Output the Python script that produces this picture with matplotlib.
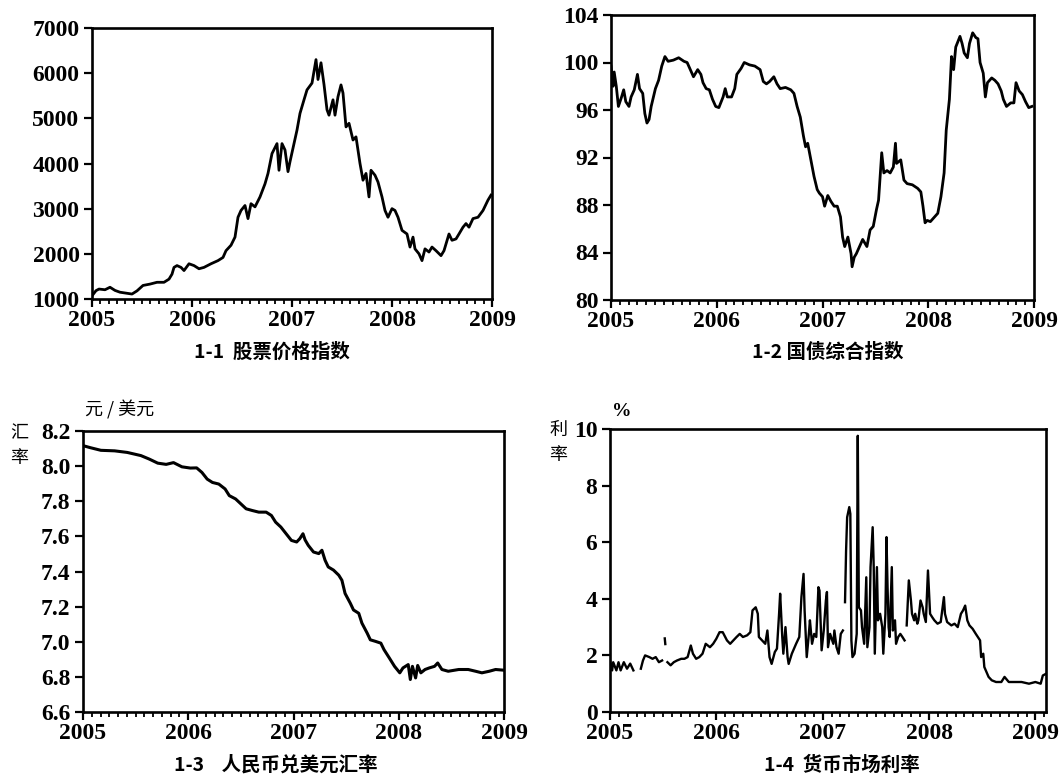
import numpy as np
import matplotlib
matplotlib.use('Agg')
import matplotlib.pyplot as plt
from matplotlib.ticker import MultipleLocator, FormatStrFormatter

nan = np.nan

# 1-1 stock price index
stock_t = [2005.00, 2005.04, 2005.07, 2005.13, 2005.18, 2005.23, 2005.28, 2005.34, 2005.40, 2005.45,
           2005.51, 2005.58, 2005.65, 2005.72, 2005.77, 2005.80, 2005.82, 2005.85, 2005.89, 2005.92,
           2005.97, 2006.02, 2006.07, 2006.12, 2006.19, 2006.26, 2006.31, 2006.34, 2006.39, 2006.43,
           2006.46, 2006.49, 2006.53, 2006.56, 2006.59, 2006.63, 2006.68, 2006.73, 2006.76, 2006.80,
           2006.85, 2006.87, 2006.90, 2006.93, 2006.96, 2006.98, 2007.02, 2007.05, 2007.08, 2007.12,
           2007.15, 2007.20, 2007.24, 2007.26, 2007.29, 2007.32, 2007.35, 2007.37, 2007.41, 2007.43,
           2007.46, 2007.49, 2007.51, 2007.54, 2007.57, 2007.61, 2007.64, 2007.68, 2007.71, 2007.74,
           2007.77, 2007.79, 2007.83, 2007.86, 2007.90, 2007.93, 2007.96, 2008.00, 2008.03, 2008.06,
           2008.10, 2008.15, 2008.18, 2008.21, 2008.23, 2008.27, 2008.30, 2008.33, 2008.37, 2008.40,
           2008.44, 2008.49, 2008.52, 2008.57, 2008.60, 2008.64, 2008.67, 2008.71, 2008.74, 2008.77,
           2008.81, 2008.86, 2008.91, 2008.96, 2008.99]
stock_v = [1070, 1185, 1220, 1205, 1260, 1190, 1150, 1130, 1110, 1180,
           1300, 1330, 1370, 1370, 1440, 1550, 1700, 1740, 1700, 1630,
           1780, 1740, 1670, 1700, 1780, 1850, 1920, 2070, 2190, 2370,
           2810, 2960, 3070, 2780, 3110, 3040, 3260, 3550, 3780, 4220,
           4440, 3850, 4440, 4300, 3820, 4040, 4440, 4740, 5110, 5410,
           5630, 5780, 6300, 5860, 6230, 5750, 5190, 5070, 5410, 5070,
           5480, 5740, 5560, 4810, 4890, 4520, 4590, 4000, 3630, 3780,
           3260, 3850, 3740, 3590, 3260, 2960, 2810, 3000, 2960, 2810,
           2520, 2440, 2150, 2370, 2110, 2000, 1850, 2110, 2040, 2150,
           2070, 1960, 2070, 2440, 2300, 2330, 2440, 2590, 2670, 2590,
           2780, 2810, 2960, 3190, 3300]

# 1-2 treasury bond composite index
bond_t = [2005.00, 2005.02, 2005.03, 2005.05, 2005.07, 2005.10, 2005.12, 2005.14, 2005.17, 2005.19,
          2005.22, 2005.25, 2005.27, 2005.30, 2005.32, 2005.34, 2005.36, 2005.38, 2005.42, 2005.45,
          2005.48, 2005.51, 2005.54, 2005.59, 2005.64, 2005.69, 2005.72, 2005.75, 2005.78, 2005.82,
          2005.85, 2005.87, 2005.90, 2005.93, 2005.96, 2005.99, 2006.02, 2006.06, 2006.08, 2006.10,
          2006.14, 2006.17, 2006.19, 2006.23, 2006.26, 2006.31, 2006.36, 2006.41, 2006.44, 2006.47,
          2006.50, 2006.54, 2006.57, 2006.60, 2006.65, 2006.70, 2006.73, 2006.76, 2006.79, 2006.82,
          2006.84, 2006.86, 2006.89, 2006.92, 2006.95, 2006.97, 2007.00, 2007.02, 2007.05, 2007.08,
          2007.11, 2007.14, 2007.17, 2007.19, 2007.21, 2007.24, 2007.27, 2007.28, 2007.30, 2007.32,
          2007.35, 2007.38, 2007.42, 2007.45, 2007.48, 2007.51, 2007.53, 2007.56, 2007.58, 2007.61,
          2007.64, 2007.67, 2007.69, 2007.70, 2007.74, 2007.77, 2007.80, 2007.85, 2007.90, 2007.93,
          2007.95, 2007.97, 2007.99, 2008.02, 2008.06, 2008.09, 2008.12, 2008.15, 2008.17, 2008.20,
          2008.22, 2008.24, 2008.26, 2008.30, 2008.32, 2008.34, 2008.37, 2008.39, 2008.42, 2008.45,
          2008.47, 2008.49, 2008.52, 2008.54, 2008.56, 2008.60, 2008.63, 2008.66, 2008.69, 2008.71,
          2008.74, 2008.78, 2008.81, 2008.83, 2008.86, 2008.89, 2008.92, 2008.95, 2008.98]
bond_v = [99.7, 98.0, 99.2, 98.0, 96.3, 97.1, 97.7, 96.7, 96.3, 97.1,
          97.7, 99.0, 97.8, 97.4, 95.7, 94.9, 95.2, 96.3, 97.8, 98.5,
          99.7, 100.5, 100.1, 100.2, 100.4, 100.1, 100.0, 99.4, 98.8, 99.4,
          99.0, 98.3, 97.8, 97.7, 96.9, 96.3, 96.2, 97.1, 97.8, 97.1,
          97.1, 97.8, 99.0, 99.5, 100.0, 99.8, 99.7, 99.4, 98.4, 98.2,
          98.4, 98.8, 98.2, 97.8, 97.9, 97.7, 97.4, 96.3, 95.4, 93.8,
          92.9, 93.2, 91.8, 90.4, 89.3, 89.0, 88.7, 87.9, 88.8, 88.3,
          87.9, 87.9, 87.0, 85.3, 84.5, 85.3, 83.9, 82.8, 83.6, 83.9,
          84.5, 85.1, 84.5, 85.9, 86.2, 87.6, 88.4, 92.4, 90.7, 90.9,
          90.7, 91.2, 93.2, 91.5, 91.8, 90.1, 89.8, 89.7, 89.4, 89.1,
          87.9, 86.5, 86.7, 86.6, 87.0, 87.3, 88.7, 90.7, 94.3, 96.9,
          100.5, 99.4, 101.3, 102.2, 101.6, 100.8, 100.4, 101.6, 102.5, 102.1,
          102.0, 100.0, 99.1, 97.1, 98.3, 98.7, 98.5, 98.2, 97.6, 96.9,
          96.3, 96.6, 96.6, 98.3, 97.6, 97.3, 96.7, 96.2, 96.3]

# 1-3 RMB / USD exchange rate
fx_t = [2005.01, 2005.07, 2005.17, 2005.30, 2005.42, 2005.55, 2005.63, 2005.71, 2005.79, 2005.86,
        2005.94, 2006.02, 2006.08, 2006.13, 2006.18, 2006.23, 2006.29, 2006.35, 2006.39, 2006.45,
        2006.50, 2006.55, 2006.61, 2006.67, 2006.74, 2006.79, 2006.83, 2006.88, 2006.93, 2006.98,
        2007.03, 2007.06, 2007.09, 2007.11, 2007.14, 2007.19, 2007.24, 2007.27, 2007.30, 2007.33,
        2007.38, 2007.43, 2007.46, 2007.49, 2007.54, 2007.57, 2007.62, 2007.65, 2007.70, 2007.73,
        2007.78, 2007.83, 2007.86, 2007.91, 2007.96, 2008.01, 2008.04, 2008.09, 2008.11, 2008.13,
        2008.16, 2008.18, 2008.21, 2008.25, 2008.29, 2008.34, 2008.37, 2008.41, 2008.47, 2008.57,
        2008.66, 2008.73, 2008.79, 2008.86, 2008.92, 2009.00]
fx_v = [8.115, 8.105, 8.090, 8.087, 8.078, 8.060, 8.040, 8.017, 8.010, 8.020,
        7.996, 7.989, 7.990, 7.964, 7.926, 7.907, 7.898, 7.870, 7.832, 7.813,
        7.785, 7.757, 7.747, 7.738, 7.738, 7.719, 7.681, 7.653, 7.615, 7.577,
        7.568, 7.587, 7.615, 7.580, 7.549, 7.511, 7.502, 7.521, 7.464, 7.426,
        7.408, 7.379, 7.350, 7.275, 7.219, 7.181, 7.162, 7.106, 7.049, 7.011,
        7.002, 6.992, 6.955, 6.908, 6.860, 6.823, 6.851, 6.870, 6.785, 6.860,
        6.794, 6.865, 6.823, 6.842, 6.851, 6.860, 6.879, 6.842, 6.832, 6.842,
        6.842, 6.832, 6.823, 6.832, 6.842, 6.838]

# 1-4 money market rate (nan = gap in the series)
rate_t = [2005.00, 2005.02, 2005.03, 2005.06, 2005.08, 2005.10, 2005.13, 2005.16, 2005.19, 2005.22,
          2005.25, 2005.29, 2005.31, 2005.33, 2005.37, 2005.40, 2005.43, 2005.46, 2005.49, 2005.50,
          2005.515, 2005.52, 2005.53, 2005.54, 2005.57, 2005.60, 2005.63, 2005.67, 2005.70, 2005.73,
          2005.76, 2005.78, 2005.81, 2005.84, 2005.87, 2005.90, 2005.94, 2005.97, 2006.00, 2006.03,
          2006.06, 2006.10, 2006.13, 2006.16, 2006.19, 2006.22, 2006.25, 2006.29, 2006.32, 2006.34,
          2006.37, 2006.39, 2006.40, 2006.43, 2006.46, 2006.48, 2006.50, 2006.52, 2006.55, 2006.57,
          2006.59, 2006.60, 2006.62, 2006.63, 2006.65, 2006.67, 2006.68, 2006.71, 2006.75, 2006.78,
          2006.80, 2006.82, 2006.83, 2006.85, 2006.87, 2006.88, 2006.90, 2006.92, 2006.94, 2006.96,
          2006.97, 2006.99, 2007.01, 2007.03, 2007.04, 2007.05, 2007.07, 2007.10, 2007.11, 2007.13,
          2007.15, 2007.17, 2007.19, 2007.20, 2007.21, 2007.22, 2007.23, 2007.25, 2007.26, 2007.27,
          2007.28, 2007.30, 2007.32, 2007.33, 2007.34, 2007.36, 2007.37, 2007.39, 2007.41, 2007.42,
          2007.44, 2007.45, 2007.47, 2007.48, 2007.49, 2007.51, 2007.52, 2007.54, 2007.56, 2007.57,
          2007.59, 2007.60, 2007.61, 2007.62, 2007.63, 2007.65, 2007.66, 2007.68, 2007.69, 2007.71,
          2007.73, 2007.75, 2007.77, 2007.78, 2007.79, 2007.81, 2007.83, 2007.84, 2007.86, 2007.87,
          2007.89, 2007.90, 2007.92, 2007.94, 2007.95, 2007.97, 2007.99, 2008.01, 2008.03, 2008.05,
          2008.08, 2008.11, 2008.14, 2008.15, 2008.17, 2008.21, 2008.24, 2008.27, 2008.30, 2008.32,
          2008.34, 2008.36, 2008.38, 2008.41, 2008.44, 2008.48, 2008.49, 2008.51, 2008.52, 2008.56,
          2008.59, 2008.63, 2008.68, 2008.71, 2008.75, 2008.81, 2008.87, 2008.94, 2009.00, 2009.05,
          2009.07, 2009.10]
rate_v = [1.82, 1.47, 1.76, 1.47, 1.76, 1.47, 1.76, 1.53, 1.71, 1.47,
          nan, 1.53, 1.82, 2.00, 1.94, 1.88, 1.94, 1.76, 1.82, nan,
          2.60, 2.40, nan, 1.76, 1.65, 1.76, 1.82, 1.88, 1.88, 1.94,
          2.35, 2.06, 1.88, 1.94, 2.06, 2.41, 2.29, 2.41, 2.59, 2.82,
          2.82, 2.53, 2.41, 2.53, 2.65, 2.76, 2.65, 2.71, 2.82, 3.59,
          3.70, 3.47, 2.65, 2.53, 2.41, 2.88, 1.94, 1.70, 2.12, 2.24,
          3.47, 4.18, 2.65, 2.06, 3.00, 1.94, 1.70, 2.06, 2.41, 2.65,
          4.06, 4.88, 3.59, 1.94, 2.76, 3.24, 2.41, 2.76, 2.65, 4.41,
          4.29, 2.18, 2.88, 3.94, 4.24, 2.29, 2.76, 2.41, 2.88, 2.29,
          2.06, 2.76, 2.88, nan, 3.88, 5.70, 6.88, 7.24, 7.00, 2.53,
          1.94, 2.06, 2.76, 9.76, 3.70, 3.59, 3.00, 2.41, 4.76, 2.29,
          3.00, 5.12, 6.53, 5.12, 2.06, 5.12, 3.24, 3.47, 3.00, 2.06,
          3.47, 6.18, 4.41, 3.00, 2.65, 5.12, 2.88, 3.24, 2.41, 2.65,
          2.76, 2.65, 2.53, nan, 3.06, 4.65, 3.94, 3.47, 3.24, 3.47,
          3.12, 3.24, 3.94, 3.70, 3.47, 3.18, 5.00, 3.47, 3.35, 3.24,
          3.12, 3.18, 4.06, 3.47, 3.18, 3.06, 3.12, 3.00, 3.47, 3.59,
          3.76, 3.24, 3.06, 2.94, 2.76, 2.53, 1.94, 2.06, 1.59, 1.24,
          1.12, 1.06, 1.06, 1.24, 1.06, 1.06, 1.06, 1.00, 1.06, 1.00,
          1.29, 1.35]

years = [2005, 2006, 2007, 2008, 2009]

W, H = 1061, 775
fig = plt.figure(figsize=(W / 100, H / 100), dpi=100)

cjk = ['Noto Sans CJK SC', 'DejaVu Sans']


def box(l, t, r, b):
    return [l / W, 1 - b / H, (r - l) / W, (b - t) / H]


def style(ax, xlim, ylim, ystep, yfmt):
    ax.set_xlim(*xlim)
    ax.set_ylim(*ylim)
    ax.set_xticks(years)
    ax.xaxis.set_minor_locator(MultipleLocator(1 / 12))
    ax.yaxis.set_major_locator(MultipleLocator(ystep))
    ax.yaxis.set_major_formatter(FormatStrFormatter(yfmt))
    for s in ax.spines.values():
        s.set_linewidth(1.9)
    ax.tick_params(axis='x', which='major', direction='out', length=6, width=1.6, pad=2)
    ax.tick_params(axis='x', which='minor', direction='out', length=3.5, width=1.3)
    ax.tick_params(axis='y', which='major', direction='out', length=6, width=1.6, pad=3)
    ax.tick_params(axis='y', which='minor', length=0)
    for lab in ax.get_xticklabels() + ax.get_yticklabels():
        lab.set_family('Liberation Serif')
        lab.set_weight('bold')
        lab.set_size(17)


ax1 = fig.add_axes(box(92, 28, 492, 299))
ax1.plot(stock_t, stock_v, color='black', lw=2)
style(ax1, (2005, 2009), (1000, 7000), 1000, '%d')

ax2 = fig.add_axes(box(611, 15, 1034, 300))
ax2.plot(bond_t, bond_v, color='black', lw=2)
style(ax2, (2005, 2009), (80, 104), 4, '%d')

ax3 = fig.add_axes(box(83, 431, 504, 712))
ax3.plot(fx_t, fx_v, color='black', lw=2.2)
style(ax3, (2005, 2009), (6.6, 8.2), 0.2, '%.1f')

ax4 = fig.add_axes(box(610, 429, 1046, 712))
ax4.plot(rate_t, rate_v, color='black', lw=1.7)
style(ax4, (2005, 2009.1), (0, 10), 2, '%d')

title_kw = dict(family=cjk, weight='bold', size=14, ha='center', va='center')
fig.text(272 / W, 1 - 352 / H, '1-1  股票价格指数', **title_kw)
fig.text(828 / W, 1 - 352 / H, '1-2 国债综合指数', **title_kw)
fig.text(276 / W, 1 - 765 / H, '1-3    人民币兑美元汇率', **title_kw)
fig.text(842 / W, 1 - 765 / H, '1-4  货币市场利率', **title_kw)

lab_kw = dict(family=cjk, size=13, ha='center', va='center')
fig.text(19 / W, 1 - 433 / H, '汇', **lab_kw)
fig.text(19 / W, 1 - 458 / H, '率', **lab_kw)
fig.text(85 / W, 1 - 410 / H, '元 / 美元', family=cjk, size=13, ha='left', va='center')
fig.text(558 / W, 1 - 430 / H, '利', **lab_kw)
fig.text(558 / W, 1 - 455 / H, '率', **lab_kw)
fig.text(612 / W, 1 - 412 / H, '%', family='Liberation Serif', weight='bold', size=14,
         ha='left', va='center')

fig.savefig('out.png', dpi=100)
